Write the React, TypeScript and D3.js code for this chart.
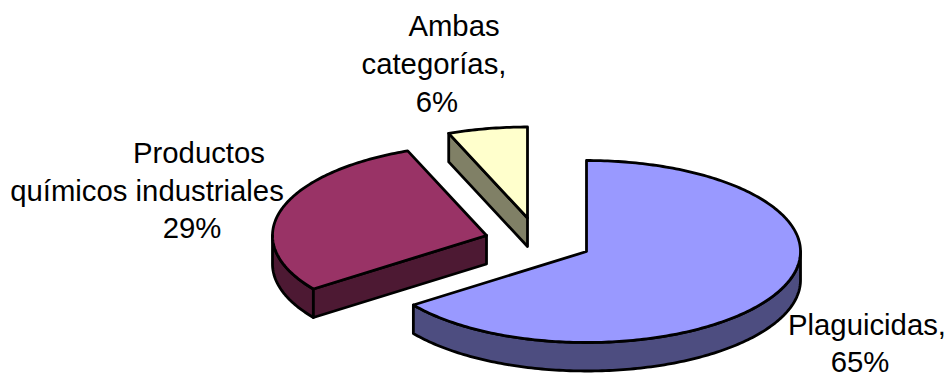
import React from "react";
import * as d3 from "d3";

const categories = ["Plaguicidas", "Productos químicos industriales", "Ambas categorías"];
const shares = [65, 29, 6];
const topColors = ["#9999FF", "#993366", "#FFFFCC"];
const wallColors = ["#4D4D80", "#4D1933", "#808066"];

// Each wedge is pulled out of the pie, so each one has its own projected centre.
const wedgeCenters: [number, number][] = [
  [586.5, 251.5],
  [486.5, 235.5],
  [527.5, 218],
];
const labelLines = [
  { text: "Plaguicidas,", x: 867, y: 335 },
  { text: "65%", x: 860, y: 372 },
  { text: "Productos", x: 199, y: 162.5 },
  { text: "químicos industriales", x: 147, y: 200.5 },
  { text: "29%", x: 192, y: 238 },
  { text: "Ambas", x: 454, y: 36 },
  { text: "categorías,", x: 434, y: 74 },
  { text: "6%", x: 437, y: 111.5 },
];

const WIDTH = 949;
const HEIGHT = 374;
const RX = 214;
const RY = 91;
const DEPTH = 28.5;

const angles = d3
  .pie<number>()
  .sort(null)
  .value((d) => d)(shares);

// Unit-circle coordinates to the tilted ellipse of the pie's top face.
const sx = d3.scaleLinear().domain([-1, 1]).range([-RX, RX]);
const sy = d3.scaleLinear().domain([-1, 1]).range([-RY, RY]);

const rimPoint = (a: number, c: [number, number], drop = 0): [number, number] => [
  c[0] + sx(Math.sin(a)),
  c[1] + sy(-Math.cos(a)) + drop,
];

const rim = (a0: number, a1: number, c: [number, number], drop = 0) => {
  const count = Math.max(2, Math.ceil((a1 - a0) * 60));
  return d3.range(count + 1).map((i) => rimPoint(a0 + ((a1 - a0) * i) / count, c, drop));
};

const line = d3.line();
const closed = (pts: [number, number][]) => line(pts) + "Z";

export default function App() {
  return (
    <svg
      width={WIDTH}
      height={HEIGHT}
      viewBox={`0 0 ${WIDTH} ${HEIGHT}`}
      style={{ position: "absolute", left: 0, top: 0, background: "#fff" }}
    >
      {[2, 1, 0].map((i) => {
        const { startAngle: a0, endAngle: a1 } = angles[i];
        const c = wedgeCenters[i];
        const drop: [number, number] = [c[0], c[1] + DEPTH];
        const walls: string[] = [];
        // Outer wall: only the front half of the rim can be seen.
        const w0 = Math.max(a0, Math.PI / 2);
        const w1 = Math.min(a1, (3 * Math.PI) / 2);
        if (w1 > w0) {
          walls.push(closed([...rim(w0, w1, c), ...rim(w0, w1, c, DEPTH).reverse()]));
        }
        // Cut face on the start side, visible when it turns towards the viewer.
        if (a0 > Math.PI && a0 < 2 * Math.PI) {
          walls.push(closed([c, rimPoint(a0, c), rimPoint(a0, c, DEPTH), drop]));
        }
        const top = closed([c, ...rim(a0, a1, c)]);
        return (
          <g key={categories[i]} stroke="#000" strokeWidth={2.8} strokeLinejoin="round">
            {walls.map((d, k) => (
              <path key={k} d={d} fill={wallColors[i]} />
            ))}
            <path d={top} fill={topColors[i]} />
          </g>
        );
      })}
      <g fontFamily="'Liberation Sans', Arial, sans-serif" fontSize={29.3} fill="#000" textAnchor="middle">
        {labelLines.map((l) => (
          <text key={l.text} x={l.x} y={l.y}>
            {l.text}
          </text>
        ))}
      </g>
    </svg>
  );
}
